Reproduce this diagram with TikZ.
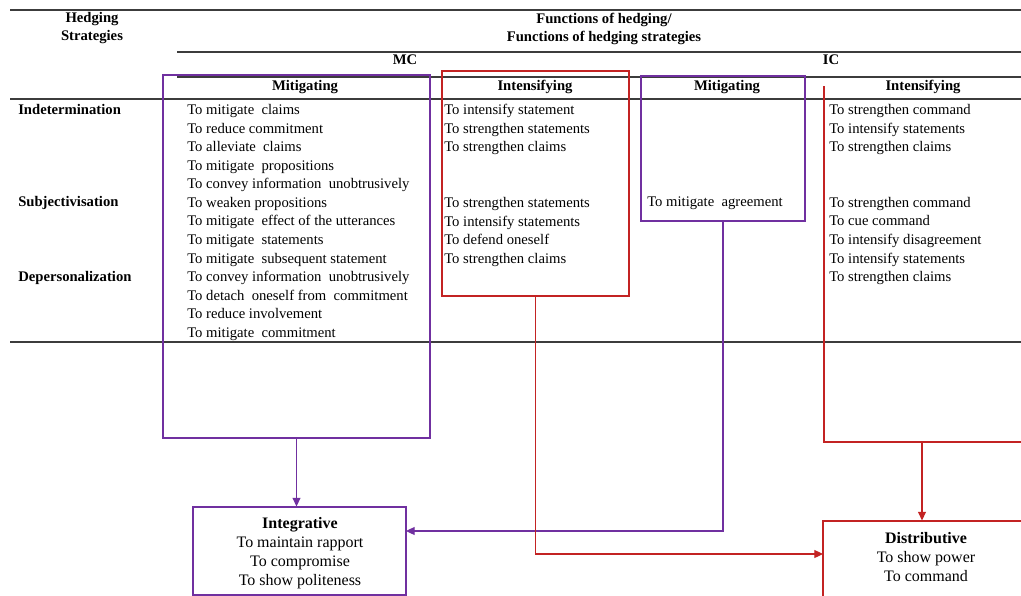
\documentclass[tikz,border=0pt]{standalone}
\usepackage{fontspec}
\setmainfont{Liberation Serif}
\usetikzlibrary{arrows.meta,fit}
\definecolor{purp}{RGB}{112,48,160}
\definecolor{redc}{RGB}{195,35,35}
\definecolor{rulec}{RGB}{60,60,60}
\begin{document}
\begin{tikzpicture}[x=0.75pt,y=-0.75pt,
  hrule/.style={draw=rulec,line width=0.8pt},
  pbox/.style={draw=purp,line width=0.85pt,inner sep=0pt},
  rbox/.style={draw=redc,line width=0.85pt,inner sep=0pt},
  body/.style={font=\fontsize{11}{13.94}\selectfont,inner sep=0pt,align=left,anchor=north west},
  hd/.style={font=\bfseries\fontsize{11}{13.5}\selectfont,inner sep=0pt},
  res/.style={font=\fontsize{12}{14.4}\selectfont,inner sep=0pt,align=center,anchor=north},
  parr/.style={draw=purp,line width=0.85pt,-{Triangle[length=6.5pt,width=6pt]}},
  rarr/.style={draw=redc,line width=0.85pt,-{Triangle[length=6.5pt,width=6pt]}}]
\useasboundingbox (0,0) rectangle (1021,596);
\clip (0,0) rectangle (1021,596);
\fill[white] (0,0) rectangle (1021,596);

% table rules
\draw[hrule] (10,10) -- (1021,10);
\draw[hrule] (177,52) -- (1021,52);
\draw[hrule] (177,77) -- (1021,77);
\draw[hrule] (10,99) -- (1021,99);
\draw[draw=rulec,line width=1.2pt] (10,342) -- (1021,342);

% headers
\node[hd,align=center,anchor=north] (hs) at (92,12.5) {Hedging\\Strategies};
\node[hd,align=center,anchor=north] (fh) at (604,12.5) {Functions of hedging/\\Functions of hedging strategies};
\node[hd,anchor=base] (mc) at (405,64.5) {MC};
\node[hd,anchor=base] (ic) at (831,64.5) {IC};
\node[hd,anchor=base] (h1) at (305,90.5) {Mitigating};
\node[hd,anchor=base] (h2) at (535,90.5) {Intensifying};
\node[hd,anchor=base] (h3) at (727,90.5) {Mitigating};
\node[hd,anchor=base] (h4) at (923,90.5) {Intensifying};

% row labels
\node[hd,anchor=base west] (r1) at (18,114) {Indetermination};
\node[hd,anchor=base west] (r2) at (18,206) {Subjectivisation};
\node[hd,anchor=base west] (r3) at (18,281) {Depersonalization};

% boxes
\node[pbox,fit={(163,75) (430,438)}] (mcm) {};
\node[rbox,fit={(442,71) (629,296)}] (mci) {};
\node[pbox,fit={(641,76) (805,221)}] (icm) {};
\draw[draw=redc,line width=0.85pt] (824,86) -- (824,442) -- (1030,442);
\coordinate (iciB) at (922,442);

% column texts
\node[body] (t1) at (187,104) {To mitigate\ \ claims\\
To reduce commitment\\
To alleviate\ \ claims\\
To mitigate\ \ propositions\\
To convey information\ \ unobtrusively\\
To weaken propositions\\
To mitigate\ \ effect of the utterances\\
To mitigate\ \ statements\\
To mitigate\ \ subsequent statement\\
To convey information\ \ unobtrusively\\
To detach\ \ oneself from\ \ commitment\\
To reduce involvement\\
To mitigate\ \ commitment};
\node[body] (t2) at (444,104) {To intensify statement\\
To strengthen statements\\
To strengthen claims\\
\mbox{}\\
\mbox{}\\
To strengthen statements\\
To intensify statements\\
To defend oneself\\
To strengthen claims};
\node[font=\fontsize{11}{13.94}\selectfont,inner sep=0pt,anchor=base west] (t3) at (647,206) {To mitigate\ \ agreement};
\node[body] (t4) at (829,104) {To strengthen command\\
To intensify statements\\
To strengthen claims\\
\mbox{}\\
\mbox{}\\
To strengthen command\\
To cue command\\
To intensify disagreement\\
To intensify statements\\
To strengthen claims};

% result boxes
\node[pbox,fit={(193,507) (406,595)}] (integ) {};
\node[res] (itx) at (300,517) {\textbf{Integrative}\\To maintain rapport\\To compromise\\To show politeness};
\node[rbox,fit={(823,521) (1060,640)}] (dbox) {};
\node[res] (dtx) at (926,532) {\textbf{Distributive}\\To show power\\To command};
\coordinate (ij) at (406,531);
\coordinate (dj) at (823,554);

% connectors
\draw[parr] (mcm.south) -- (mcm.south |- integ.north);
\draw[parr] (icm.south) |- (ij);
\draw[rarr] (mci.south) |- (dj);
\draw[rarr] (iciB) -- (iciB |- dbox.north);
\end{tikzpicture}
\end{document}
